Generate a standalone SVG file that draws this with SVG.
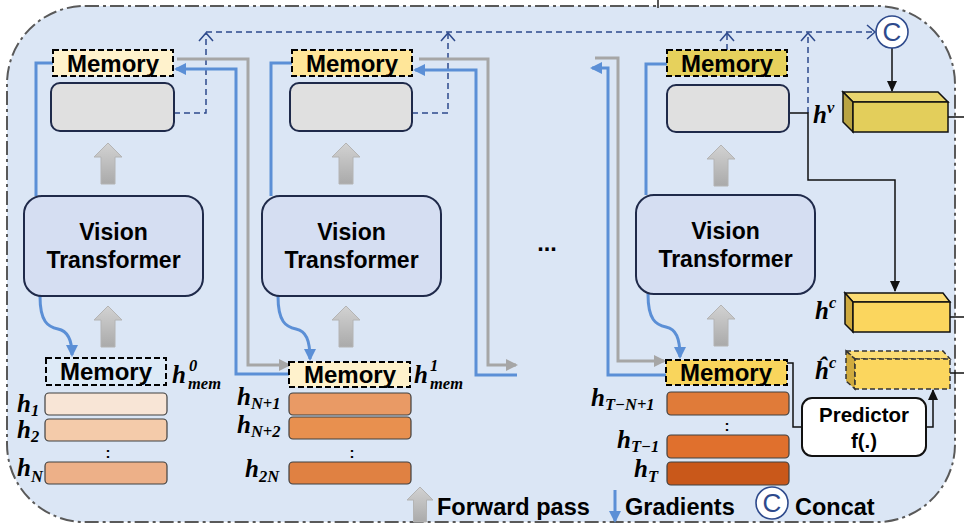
<svg xmlns="http://www.w3.org/2000/svg" width="964" height="532" viewBox="0 0 964 532">
<style>
.frame{fill:#dbe6f5;stroke:#595959;stroke-width:2;stroke-dasharray:14 4 3 4}
.mem{stroke:#000;stroke-width:2;stroke-dasharray:6 3}
.memt{font-family:"Liberation Sans",Arial,sans-serif;font-weight:bold;font-size:24px;text-anchor:middle;fill:#000}
.gbox{fill:#e0e0e0;stroke:#1f2a4a;stroke-width:2}
.vt{fill:#d5def2;stroke:#1f2a4a;stroke-width:2}
.vtt{font-family:"Liberation Sans",Arial,sans-serif;font-weight:bold;font-size:23px;text-anchor:middle;fill:#000}
.bar{stroke:#404040;stroke-width:1.2}
.m{font-family:"Liberation Serif","Times New Roman",serif;font-weight:bold;font-style:italic;font-size:25px;fill:#000}
.s{font-size:16.5px}
.col{font-family:"Liberation Sans",Arial,sans-serif;font-weight:bold;font-size:15px;text-anchor:middle}
.leg{font-family:"Liberation Sans",Arial,sans-serif;font-weight:bold;font-size:23.5px;fill:#000}
.blue{fill:none;stroke:#5b8fd6;stroke-width:3}
.gray{fill:none;stroke:#a6a6a6;stroke-width:3}
.dash{fill:none;stroke:#2e4a8c;stroke-width:1.5;stroke-dasharray:6 4}
.blk{fill:none;stroke:#111;stroke-width:1.5}
.fwd{fill:url(#gg);stroke:#b4b4b4;stroke-width:1}
.cc{fill:#fff;stroke:#2e4a8c;stroke-width:1.6}
.cct{font-family:"Liberation Sans",Arial,sans-serif;font-size:26px;fill:#2e4a8c;text-anchor:middle}
.box3{stroke:#111;stroke-width:1.5}
.box3d{stroke:#333;stroke-width:1.5;stroke-dasharray:5 3}
</style>
<defs>
<linearGradient id="gg" x1="0" y1="0" x2="0" y2="1"><stop offset="0" stop-color="#d2d2d2"/><stop offset="1" stop-color="#aaaaaa"/></linearGradient>
<path id="up" d="M0,0 L14,14 L7,14 L7,41 L-7,41 L-7,14 L-14,14 Z"/>
<marker id="ab" markerUnits="userSpaceOnUse" markerWidth="14" markerHeight="12" refX="10" refY="6" orient="auto" overflow="visible"><path d="M0,0 L12,6 L0,12 Z" fill="#5b8fd6"/></marker>
<marker id="ag" markerUnits="userSpaceOnUse" markerWidth="14" markerHeight="12" refX="10" refY="6" orient="auto" overflow="visible"><path d="M0,0 L12,6 L0,12 Z" fill="#a6a6a6"/></marker>
<marker id="ak" markerUnits="userSpaceOnUse" markerWidth="12" markerHeight="10" refX="10" refY="5" orient="auto" overflow="visible"><path d="M0,0 L11,5 L0,10 Z" fill="#111"/></marker>
<marker id="ch" markerUnits="userSpaceOnUse" markerWidth="12" markerHeight="16" refX="9" refY="7" orient="auto" overflow="visible"><path d="M1,0 L9,7 L1,14" fill="none" stroke="#2e4a8c" stroke-width="1.5"/></marker>
</defs>

<rect class="frame" x="7" y="6" width="948" height="516" rx="78" ry="78"/>
<line x1="658" y1="0" x2="658" y2="8" stroke="#595959" stroke-width="2"/>

<g id="connectors">
  <path class="dash" d="M206,32 H875" marker-end="url(#ch)"/>
  <path class="dash" d="M174,113 H206 V33" marker-end="url(#ch)"/>
  <path class="dash" d="M412,113 H448 V33" marker-end="url(#ch)"/>
  <path class="dash" d="M727,50 V33" marker-end="url(#ch)"/>
  <path class="dash" d="M808,113 V33" marker-end="url(#ch)"/>
  <path class="blue" d="M53,63 H36 V196"/>
  <path class="blue" d="M292,63 H271 V196"/>
  <path class="blue" d="M667,64 H646 V195"/>
  <path class="blue" d="M289,374 H236 V69 H176" marker-end="url(#ab)"/>
  <path class="blue" d="M517,375 H476 V70 H415" marker-end="url(#ab)"/>
  <path class="blue" d="M666,375 H608 V68 H592" marker-end="url(#ab)"/>
  <path class="blue" d="M40,296 C40,322 48,327 58,329 C68,331 72,340 72,355" marker-end="url(#ab)"/>
  <path class="blue" d="M278,296 C278,322 286,327 296,329 C306,331 310,340 310,359" marker-end="url(#ab)"/>
  <path class="blue" d="M648,294 C648,320 656,325 666,327 C676,329 680,338 680,357" marker-end="url(#ab)"/>
  <path class="gray" d="M177,59 H248 V365 H289" marker-end="url(#ag)"/>
  <path class="gray" d="M419,59 H488 V365 H516" marker-end="url(#ag)"/>
  <path class="gray" d="M595,58 H618 V361 H664" marker-end="url(#ag)"/>
  <path class="blk" d="M789,113 H808 V180 H895 V291" marker-end="url(#ak)"/>
  <path class="blk" d="M892,48 V91" marker-end="url(#ak)"/>
  <path class="blk" d="M787,363 H793 V427 H802"/>
  <path class="blk" d="M926,427 H933 V390" marker-end="url(#ak)"/>
  <path class="blk" d="M948,117 H964 M950,317 H964 M950,373 H964"/>
  <use href="#up" class="fwd" x="108" y="143"/>
  <use href="#up" class="fwd" x="108" y="306"/>
  <use href="#up" class="fwd" x="346" y="143"/>
  <use href="#up" class="fwd" x="346" y="306"/>
  <use href="#up" class="fwd" x="721" y="145"/>
  <use href="#up" class="fwd" x="721" y="305"/>
</g>

<g id="mem-top-1"><rect class="mem" x="53" y="50" width="120" height="26" fill="#fff2cc"/><text class="memt" x="113" y="72">Memory</text></g>
<g id="out-1"><rect class="gbox" x="51" y="83" width="123" height="48" rx="9"/></g>
<g id="vit-1"><rect class="vt" x="24" y="196" width="179" height="100" rx="18"/><text class="vtt" x="113.5" y="240">Vision</text><text class="vtt" x="113.5" y="268">Transformer</text></g>
<g id="mem-bot-1"><rect class="mem" x="46" y="358" width="120" height="27" fill="#ddeaf7"/><text class="memt" x="106" y="380">Memory</text>
<text class="m" x="172" y="383">h<tspan class="s" x="189" y="371">0</tspan><tspan class="s" x="188" y="389">mem</tspan></text></g>
<g id="seg-1">
<rect class="bar" x="45" y="393" width="122" height="22" rx="4" fill="#f8e5d6"/>
<rect class="bar" x="45" y="419" width="122" height="22" rx="4" fill="#f4cbaa"/>
<text class="col" x="108" y="458">:</text>
<rect class="bar" x="45" y="462" width="122" height="22" rx="4" fill="#edb088"/>
<text class="m" x="17" y="412">h<tspan class="s" dy="4">1</tspan></text>
<text class="m" x="17" y="438">h<tspan class="s" dy="4">2</tspan></text>
<text class="m" x="17" y="476">h<tspan class="s" dy="6">N</tspan></text>
</g>

<g id="mem-top-2"><rect class="mem" x="292" y="50" width="120" height="26" fill="#ffe699"/><text class="memt" x="352" y="72">Memory</text></g>
<g id="out-2"><rect class="gbox" x="290" y="83" width="122" height="48" rx="9"/></g>
<g id="vit-2"><rect class="vt" x="262" y="196" width="179" height="100" rx="18"/><text class="vtt" x="351.5" y="240">Vision</text><text class="vtt" x="351.5" y="268">Transformer</text></g>
<g id="mem-bot-2"><rect class="mem" x="289" y="362" width="121" height="25" fill="#fff2cc"/><text class="memt" x="350" y="383">Memory</text>
<text class="m" x="414" y="383">h<tspan class="s" x="430" y="371">1</tspan><tspan class="s" x="430" y="389">mem</tspan></text></g>
<g id="seg-2">
<rect class="bar" x="289" y="393" width="122" height="22" rx="4" fill="#e99a65"/>
<rect class="bar" x="289" y="417" width="122" height="22" rx="4" fill="#e8904f"/>
<text class="col" x="352" y="458">:</text>
<rect class="bar" x="289" y="462" width="122" height="22" rx="4" fill="#e08142"/>
<text class="m" x="237" y="405">h<tspan class="s" dy="4">N+1</tspan></text>
<text class="m" x="237" y="433">h<tspan class="s" dy="4">N+2</tspan></text>
<text class="m" x="245" y="477">h<tspan class="s" dy="5">2N</tspan></text>
</g>

<g id="ellipsis"><text class="leg" x="547" y="251" text-anchor="middle">...</text></g>

<g id="mem-top-3"><rect class="mem" x="667" y="50" width="120" height="26" fill="#e6d15c"/><text class="memt" x="727" y="72">Memory</text></g>
<g id="out-3"><rect class="gbox" x="667" y="85" width="122" height="47" rx="9"/></g>
<g id="vit-3"><rect class="vt" x="636" y="195" width="179" height="99" rx="18"/><text class="vtt" x="725.5" y="239">Vision</text><text class="vtt" x="725.5" y="267">Transformer</text></g>
<g id="mem-bot-3"><rect class="mem" x="666" y="360" width="121" height="25" fill="#f9d55c"/><text class="memt" x="726" y="381">Memory</text></g>
<g id="seg-3">
<rect class="bar" x="667" y="392" width="122" height="23" rx="4" fill="#e07b39"/>
<text class="col" x="727" y="431">:</text>
<rect class="bar" x="667" y="435" width="122" height="23" rx="4" fill="#e0702d"/>
<rect class="bar" x="667" y="462" width="122" height="23" rx="4" fill="#c9581a"/>
<text class="m" x="591" y="406">h<tspan class="s" dy="4">T−N+1</tspan></text>
<text class="m" x="617" y="448">h<tspan class="s" dy="4">T−1</tspan></text>
<text class="m" x="634" y="477">h<tspan class="s" dy="5">T</tspan></text>
</g>

<g id="concat"><circle class="cc" cx="892" cy="32" r="16"/><text class="cct" x="892" y="41">C</text></g>
<g id="hv">
<polygon class="box3" points="843,92 938,92 948,102 853,102" fill="#e9d56f"/>
<polygon class="box3" points="843,92 853,102 853,132 843,122" fill="#b9a443"/>
<rect class="box3" x="853" y="102" width="95" height="30" fill="#e3ce5b"/>
<text class="m" x="813" y="123">h<tspan class="s" dy="-10">v</tspan></text>
</g>
<g id="hc">
<polygon class="box3" points="845,293 943,293 950,302 853,302" fill="#fcdc73"/>
<polygon class="box3" points="845,293 853,302 853,332 845,324" fill="#cfaa3e"/>
<rect class="box3" x="853" y="302" width="97" height="30" fill="#fbd65e"/>
<text class="m" x="815" y="319">h<tspan class="s" dy="-11">c</tspan></text>
</g>
<g id="hc-hat">
<polygon class="box3d" points="846,351 943,351 950,359 855,359" fill="#fcdc73"/>
<polygon class="box3d" points="846,351 855,359 855,389 846,381" fill="#cfaa3e"/>
<rect class="box3d" x="855" y="359" width="95" height="30" fill="#fbd65e"/>
<text class="m" x="815" y="379">ĥ<tspan class="s" dy="-11">c</tspan></text>
</g>
<g id="predictor"><rect x="802" y="398" width="124" height="58" rx="10" fill="#fff" stroke="#111" stroke-width="2"/>
<text class="vtt" x="864" y="422" style="font-size:20.5px">Predictor</text><text class="vtt" x="864" y="448" style="font-size:20.5px">f(.)</text></g>

<g id="legend">
<path class="fwd" d="M420,487 L433,500 L426.5,500 L426.5,522 L413.5,522 L413.5,500 L407,500 Z"/>
<text class="leg" x="437" y="515">Forward pass</text>
<path class="blue" d="M615,490 V521" marker-end="url(#ab)"/>
<text class="leg" x="625" y="515">Gradients</text>
<circle class="cc" cx="772" cy="503" r="16"/><text class="cct" x="772" y="512">C</text>
<text class="leg" x="795" y="515">Concat</text>
</g>
</svg>
